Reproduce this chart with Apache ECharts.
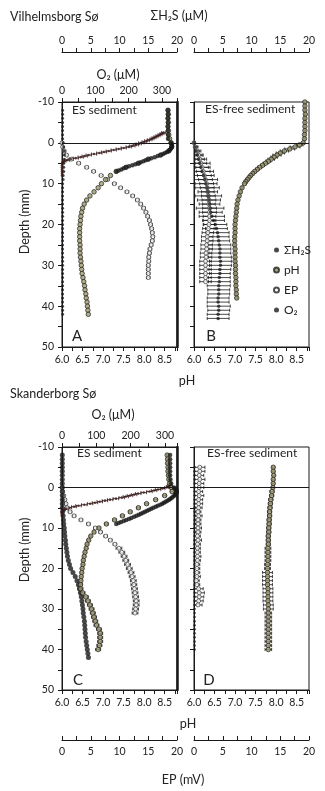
<!DOCTYPE html>
<html><head><meta charset="utf-8">
<script src="https://cdn.jsdelivr.net/npm/echarts@6/dist/echarts.min.js"></script>
<style>html,body{margin:0;padding:0;background:#fff}#c{width:325px;height:791px}</style>
</head><body><div id="c"></div>
<script>
// ---------------- DATA ----------------
// Tick labels / axis ranges
const depthTicks = [-10, 0, 10, 20, 30, 40, 50];
const phTicks = [6.0, 6.5, 7.0, 7.5, 8.0, 8.5];
const concTicks = [0, 5, 10, 15, 20];
const o2Ticks = [0, 100, 200, 300];
const legendNames = ['ΣH₂S', 'pH', 'EP', 'O₂'];

// ---- Panel A: Vilhelmsborg Sø, ES sediment ----
const depthA = [-8,-7,-6,-5,-4,-3,-2,-1,0,1,2,3,4,5,6,7,8,9,10,11,12,13,14,15,16,17,18,19,20,21,22,23,24,25,26,27,28,29,30,31,32,33,34,35,36,37,38,39,40,41,42];
const h2sA = [0.1,0.1,0.1,0.1,0.1,0.1,0.1,0.1,0.2,0.3,0.4,0.4,0.4,0.3,0.3,0.3,0.2,0.2,0.1,0.1,0.1,0.1,0.1,0.1,0.1,0.1,0.1,0.1,0.1,0.1,0.1,0.1,0.1,0.1,0.1,0.1,0.1,0.1,0.1,0.1,0.1,0.1,0.1,0.1,0.1,0.1,0.1,0.1,0.1,0.1,0.1];
const phA = [8.58,8.59,8.58,8.59,8.58,8.59,8.60,8.62,8.66,8.67,8.60,8.40,8.10,7.86,7.56,7.32,7.18,7.06,6.96,6.88,6.78,6.68,6.60,6.54,6.50,6.48,6.46,6.45,6.44,6.43,6.43,6.43,6.43,6.44,6.44,6.44,6.45,6.46,6.47,6.48,6.49,6.51,6.53,6.55,6.56,6.58,6.59,6.61,6.62,6.63,6.64];
const depthA_O2b = [-8,-7,-6,-5,-4,-3,-2,-1,0,0.25,0.5,0.75,1,1.25,1.5,1.75,2,2.25,2.5,2.75,3,3.25,3.5,3.75,4,4.25,4.5,4.75,5,5.25,5.5,5.75,6,6.25,6.5,6.75,7];
const o2bA = [318,318,318,318,318,318,318,318,326,328,330,330,329,328,326,323,320,315,309,303,296,287,278,268,259,251,244,236,229,220,211,201,192,185,178,170,163];
const depthA_O2 = [-2.5,-2.25,-2,-1.75,-1.5,-1.25,-1,-0.75,-0.5,-0.25,0,0.25,0.5,0.75,1,1.25,1.5,1.75,2,2.25,2.5,2.75,3,3.25,3.5,3.75,4,4.25,4.5,4.75,5,5.5,6,6.5,7,7.5,8];
const o2A = [305,300,294,288,282,276,270,263,255,247,238,230,222,211,200,185,170,155,140,126,112,96,80,68,56,41,26,15,6,2,0,0,0,0,0,0,0];
const o2A_err = [6,6,6,6,6,6,6,7,7,7,8,8,8,8,8,8,8,8,8,8,8,8,8,8,8,8,8,7,6,4,3,2,2,2,2,2,2];
const depthA_EP = [0,1,2,3,4,5,6,7,8,9,10,11,12,13,14,15,16,17,18,19,20,21,22,23,24,25,26,27,28,29,30,31,32,33];
const epA = [0,0.1,0.4,0.8,1.6,2.9,4.3,5.5,6.8,7.9,9.1,10.2,11.3,12.3,13.1,13.7,14.2,14.6,14.9,15.2,15.4,15.6,15.7,15.8,15.7,15.5,15.3,15.2,15.1,15.1,15.0,15.0,15.0,15.0];
const epA_err = [0.1,0.1,0.2,0.2,0.3,0.3,0.3,0.3,0.3,0.3,0.3,0.3,0.3,0.3,0.3,0.3,0.3,0.3,0.3,0.3,0.3,0.3,0.3,0.3,0.3,0.3,0.3,0.3,0.3,0.3,0.3,0.3,0.3,0.3];

// ---- Panel B: Vilhelmsborg Sø, ES-free sediment ----
const depthB_pH = [-10,-9,-8,-7,-6,-5,-4,-3,-2,-1,0,0.5,1,1.5,2,2.5,3,3.5,4,4.5,5,5.5,6,6.5,7,7.5,8,8.5,9,9.5,10,11,12,13,14,15,16,17,18,19,20,21,22,23,24,25,26,27,28,29,30,31,32,33,34,35,36,37,38];
const phB = [8.70,8.70,8.70,8.71,8.70,8.70,8.70,8.70,8.69,8.69,8.66,8.57,8.46,8.33,8.20,8.10,8.02,7.95,7.88,7.81,7.74,7.67,7.60,7.54,7.48,7.43,7.38,7.34,7.30,7.26,7.23,7.17,7.13,7.10,7.07,7.05,7.04,7.03,7.02,7.01,7.00,7.00,7.00,6.99,6.99,6.99,7.00,7.00,7.00,7.00,7.01,7.01,7.01,7.02,7.02,7.02,7.03,7.03,7.04];
const phB_err = [0.02,0.02,0.02,0.02,0.02,0.02,0.02,0.02,0.02,0.02,0.03,0.08,0.12,0.12,0.10,0.10,0.10,0.08,0.08,0.06,0.06,0.05,0.05,0.04,0.04,0.03,0.03,0.03,0.03,0.03,0.03,0.02,0.02,0.02,0.02,0.02,0.02,0.02,0.02,0.02,0.02,0.02,0.02,0.02,0.02,0.02,0.02,0.02,0.02,0.02,0.02,0.02,0.02,0.02,0.02,0.02,0.02,0.02,0.02];
const depthB_H2S = [0,1,2,3,4,5,6,7,8,9,10,11,12,13,14,15,16,17,18,19,20,21,22,23,24,25,26,27,28,29,30,31,32,33,34,35,36,37,38,39,40,41,42,43];
const h2sB = [0,0.2,0.4,0.6,0.8,1.0,1.2,1.4,1.7,1.9,2.1,2.3,2.4,2.5,2.6,2.7,2.8,2.9,3.1,3.4,3.7,3.9,4.1,4.2,4.3,4.4,4.5,4.5,4.5,4.6,4.6,4.5,4.5,4.4,4.4,4.3,4.3,4.3,4.2,4.2,4.3,4.3,4.2,4.2];
const h2sB_err = [0.2,0.5,0.8,1.0,1.4,1.8,1.6,2.0,1.8,2.2,1.9,2.1,1.7,2.3,2.0,1.8,2.4,2.0,2.2,1.9,2.0,1.9,2.0,1.9,1.9,2.0,1.9,1.9,2.0,1.9,1.9,1.9,1.8,1.9,1.9,2.0,1.9,1.9,1.9,1.9,2.0,1.9,1.9,1.9];
const depthB_EP = [0,1,2,3,4,5,6,7,8,9,10,11,12,13,14,15,16,17,18,19,20,21,22,23,24,25,26,27,28,29,30,31,32,33,34];
const epB = [0,0.2,0.5,0.8,1.0,1.2,1.4,1.6,1.8,2.0,2.2,2.3,2.4,2.5,2.6,2.6,2.7,2.7,2.7,2.7,2.6,2.5,2.4,2.3,2.3,2.2,2.2,2.1,2.1,2.0,2.0,2.0,2.0,2.0,2.0];
const epB_err = [0.2,0.3,0.4,0.6,0.8,1.0,1.1,1.2,1.2,1.2,1.2,1.2,1.1,1.2,1.2,1.1,1.2,1.2,1.1,1.1,1.0,1.0,1.0,1.0,1.0,1.0,1.0,1.0,1.0,1.0,1.0,1.0,1.0,1.0,1.0];

// ---- Panel C: Skanderborg Sø, ES sediment ----
const depthC = [-8,-7,-6,-5,-4,-3,-2,-1,0,1,2,3,4,5,6,7,8,9,10,11,12,13,14,15,16,17,18,19,20,21,22,23,24,25,26,27,28,29,30,31,32,33,34,35,36,37,38,39,40,41,42];
const h2sC = [0.05,0.05,0.05,0.05,0.05,0.05,0.05,0.05,0.05,0.05,0.05,0.05,0.05,0.05,0.1,0.2,0.25,0.3,0.4,0.45,0.5,0.6,0.65,0.75,0.85,0.95,1.1,1.3,1.5,1.9,2.3,2.6,2.85,3.05,3.2,3.35,3.45,3.55,3.65,3.7,3.8,3.9,3.95,4.0,4.05,4.1,4.2,4.3,4.4,4.5,4.6];
const depthC_pH = [-8,-7,-6,-5,-4,-3,-2,-1,0,1,2,3,4,5,6,7,8,9,10,11,12,13,14,15,16,17,18,19,20,21,22,23,24,25,26,27,28,29,30,31,32,33,34,35,36,37,38,39,40];
const phC = [8.56,8.57,8.57,8.58,8.58,8.59,8.60,8.62,8.66,8.68,8.50,8.28,8.06,7.86,7.66,7.47,7.28,7.08,6.90,6.78,6.70,6.65,6.61,6.59,6.56,6.54,6.52,6.51,6.49,6.48,6.47,6.46,6.45,6.45,6.50,6.58,6.63,6.68,6.72,6.75,6.78,6.81,6.84,6.90,6.93,6.93,6.93,6.91,6.88];
const phC_err = [0.02,0.02,0.02,0.02,0.02,0.02,0.02,0.02,0.03,0.04,0.04,0.04,0.04,0.04,0.04,0.04,0.04,0.04,0.03,0.03,0.03,0.03,0.03,0.03,0.03,0.03,0.03,0.03,0.03,0.03,0.03,0.03,0.05,0.06,0.06,0.06,0.06,0.06,0.06,0.06,0.06,0.06,0.06,0.06,0.06,0.06,0.06,0.06,0.06];
const depthC_O2b = [-8,-7,-6,-5,-4,-3,-2,-1,0,0.25,0.5,0.75,1,1.25,1.5,1.75,2,2.25,2.5,2.75,3,3.25,3.5,3.75,4,4.25,4.5,4.75,5,5.25,5.5,5.75,6,6.25,6.5,6.75,7,7.25,7.5,7.75,8,8.25,8.5,8.75,9];
const o2bC = [315,315,315,315,315,315,316,318,326,329,332,334,334,334,332,330,328,324,320,316,312,307,302,297,292,286,279,273,266,260,254,248,242,236,230,224,217,210,202,195,187,180,172,165,158];
const depthC_O2 = [-0.5,-0.25,0,0.25,0.5,0.75,1,1.25,1.5,1.75,2,2.25,2.5,2.75,3,3.25,3.5,3.75,4,4.25,4.5,4.75,5,5.25,5.5,5.75,6,6.25,6.5,6.75,7];
const o2C = [314,310,305,293,280,268,255,238,222,210,198,186,174,157,140,125,110,96,82,65,48,35,22,13,6,2,0,0,0,0,0];
const o2C_err = [6,6,6,7,8,8,8,8,8,8,8,8,8,8,8,8,8,8,8,8,8,7,6,5,4,3,2,2,2,2,2];
const depthC_EP = [0,1,2,3,4,5,6,7,8,9,10,11,12,13,14,15,16,17,18,19,20,21,22,23,24,25,26,27,28,29,30,31];
const epC = [0,0.1,0.3,0.5,0.7,0.9,1.4,2.1,3.3,4.6,5.8,6.7,7.6,8.4,9.2,9.9,10.4,10.8,11.1,11.4,11.7,12.0,12.2,12.4,12.5,12.6,12.7,12.8,12.9,12.9,12.8,12.7];
const epC_err = [0.2,0.2,0.2,0.2,0.2,0.2,0.3,0.3,0.3,0.3,0.3,0.3,0.3,0.3,0.3,0.5,0.5,0.5,0.5,0.5,0.5,0.5,0.5,0.5,0.5,0.5,0.5,0.5,0.5,0.5,0.5,0.5];

// ---- Panel D: Skanderborg Sø, ES-free sediment ----
const depthD = [-5,-4,-3,-2,-1,0,1,2,3,4,5,6,7,8,9,10,11,12,13,14,15,16,17,18,19,20,21,22,23,24,25,26,27,28,29,30,31,32,33,34,35,36,37,38,39,40];
const h2sD = [0.1,0.1,0.1,0.1,0.1,0.1,0.1,0.1,0.1,0.1,0.1,0.1,0.1,0.1,0.1,0.1,0.1,0.1,0.1,0.1,0.1,0.1,0.1,0.1,0.1,0.1,0.1,0.1,0.1,0.1,0.1,0.1,0.1,0.1,0.1,0.1,0.1,0.1,0.1,0.1,0.1,0.1,0.1,0.1,0.1,0.1];
const phD = [7.93,7.93,7.94,7.93,7.93,7.92,7.90,7.89,7.87,7.86,7.85,7.84,7.84,7.83,7.83,7.82,7.82,7.81,7.81,7.81,7.80,7.80,7.80,7.80,7.79,7.79,7.79,7.79,7.79,7.79,7.80,7.80,7.80,7.80,7.81,7.81,7.81,7.81,7.81,7.81,7.81,7.81,7.81,7.81,7.81,7.81];
const phD_err = [0.03,0.03,0.03,0.03,0.03,0.03,0.05,0.05,0.05,0.05,0.05,0.05,0.05,0.05,0.05,0.05,0.05,0.05,0.05,0.05,0.07,0.07,0.07,0.07,0.07,0.07,0.12,0.12,0.12,0.12,0.12,0.12,0.12,0.12,0.12,0.12,0.08,0.08,0.08,0.08,0.08,0.08,0.08,0.08,0.08,0.08];
const depthD_EP = [-5,-4,-3,-2,-1,0,1,2,3,4,5,6,7,8,9,10,11,12,13,14,15,16,17,18,19,20,21,22,23,24,25,26,27,28,29];
const epD = [1.0,1.0,0.9,1.0,0.9,0.9,0.8,0.9,0.8,0.8,0.8,0.7,0.8,0.7,0.7,0.7,0.7,0.6,0.7,0.6,0.6,0.6,0.6,0.6,0.5,0.5,0.5,0.5,0.4,0.5,0.8,0.9,0.9,0.8,0.7];
const epD_err = [0.9,0.9,0.8,0.9,0.8,0.8,0.7,0.8,0.7,0.7,0.6,0.5,0.6,0.5,0.5,0.6,0.5,0.5,0.6,0.5,0.5,0.5,0.6,0.5,0.5,0.5,0.5,0.6,0.5,0.5,0.8,0.9,0.8,0.8,0.7];

// ---------------- CHART ----------------
const F = 'Lato, "Open Sans", sans-serif';
const INK = '#1a1a1a';
const PH_FILL = '#9e9a6c';
const O2_INK = '#3a1d1d';

function pts(vals, depths) { return vals.map((v, i) => [v, depths[i]]); }

function xAx(gi, pos, min, max, interval, extra) {
  return Object.assign({
    type: 'value', gridIndex: gi, position: pos, min: min, max: max, interval: interval, offset: 0,
    splitLine: { show: false },
    axisLine: { show: true, onZero: false, lineStyle: { color: INK, width: 1 } },
    axisTick: { show: true, inside: false, length: 4, lineStyle: { color: INK, width: 1 } },
    minorTick: { show: true, splitNumber: 2, length: 4, lineStyle: { color: INK, width: 1 } },
    axisLabel: { show: true, margin: 6, fontSize: 10.5, fontFamily: F, color: '#222' }
  }, extra || {});
}
const phFmt = v => phTicks.some(t => Math.abs(t - v) < 1e-6) ? v.toFixed(1) : '';
const o2Fmt = v => o2Ticks.indexOf(v) >= 0 ? String(v) : '';
const concFmt = v => concTicks.indexOf(v) >= 0 ? String(v) : '';

function phAxis(gi) { return xAx(gi, 'bottom', 6, 8.8, 0.5, { axisLabel: { margin: 7, fontSize: 10.5, fontFamily: F, color: '#222', formatter: phFmt } }); }
function o2Axis(gi, max) { return xAx(gi, 'top', 0, max, 100, { axisLabel: { margin: 6, fontSize: 10.5, fontFamily: F, color: '#222', formatter: o2Fmt } }); }
function h2sAxis(gi, show) { return xAx(gi, 'top', 0, 20, 5, { offset: 50, show: show, axisLabel: { margin: 6, fontSize: 10.5, fontFamily: F, color: '#222', formatter: concFmt } }); }
function epAxis(gi, show) { return xAx(gi, 'bottom', 0, 20, 5, { offset: 50, show: show, axisTick: { show: true, inside: true, length: 4, lineStyle: { color: INK } }, minorTick: { show: true, splitNumber: 2, length: 4, lineStyle: { color: INK } }, axisLabel: { margin: 6, fontSize: 10.5, fontFamily: F, color: '#222', formatter: concFmt } }); }

const xAxis = [
  phAxis(0), o2Axis(0, 345), h2sAxis(0, true), epAxis(0, false),        // 0-3  A
  phAxis(1), h2sAxis(1, true), epAxis(1, false),                        // 4-6  B
  phAxis(2), o2Axis(2, 335), h2sAxis(2, false), epAxis(2, true),        // 7-10 C
  phAxis(3), h2sAxis(3, false), epAxis(3, true)                         // 11-13 D
];

function yAx(gi, labels) {
  return {
    type: 'value', gridIndex: gi, position: 'left', inverse: true, min: depthTicks[0], max: depthTicks[depthTicks.length - 1], interval: 10,
    splitLine: { show: false },
    axisLine: { show: true, onZero: false, lineStyle: { color: INK, width: 1 } },
    axisTick: { show: true, length: 4, lineStyle: { color: INK } },
    minorTick: { show: true, splitNumber: 2, length: 4, lineStyle: { color: INK } },
    axisLabel: { show: labels, margin: 8, fontSize: 10.5, fontFamily: F, color: '#222' }
  };
}
function yRight(gi) {
  return { type: 'value', gridIndex: gi, position: 'right', inverse: true, min: -10, max: 50,
    splitLine: { show: false }, axisTick: { show: false }, axisLabel: { show: false },
    axisLine: { show: true, onZero: false, lineStyle: { color: INK, width: 2.5 } } };
}
const yAxis = [yAx(0, true), yAx(1, false), yAx(2, true), yAx(3, false), yRight(0), yRight(2)];

const gridBase = { show: true, borderColor: INK, borderWidth: 1, backgroundColor: 'transparent' };
const grid = [
  Object.assign({ left: 62, top: 102, width: 115, height: 245 }, gridBase),
  Object.assign({ left: 194, top: 102, width: 115, height: 245 }, gridBase),
  Object.assign({ left: 62, top: 447, width: 115, height: 243 }, gridBase),
  Object.assign({ left: 194, top: 447, width: 115, height: 243 }, gridBase)
];

function errS(xi, yi, vals, depths, errs, color) {
  return {
    type: 'custom', xAxisIndex: xi, yAxisIndex: yi, silent: true, z: 1, clip: true,
    encode: { x: 0, y: 1 },
    data: vals.map((v, i) => [v, depths[i], errs[i]]),
    renderItem: function (params, api) {
      const x = api.value(0), y = api.value(1), e = api.value(2);
      const a = api.coord([x - e, y]), b = api.coord([x + e, y]);
      const st = { stroke: color || INK, lineWidth: 0.8 };
      const h = 1.6;
      return { type: 'group', children: [
        { type: 'line', shape: { x1: a[0], y1: a[1], x2: b[0], y2: b[1] }, style: st },
        { type: 'line', shape: { x1: a[0], y1: a[1] - h, x2: a[0], y2: a[1] + h }, style: st },
        { type: 'line', shape: { x1: b[0], y1: b[1] - h, x2: b[0], y2: b[1] + h }, style: st }
      ] };
    }
  };
}
const zeroLine = { silent: true, symbol: 'none', label: { show: false }, animation: false,
  lineStyle: { color: INK, width: 1, type: 'solid' }, data: [{ yAxis: 0 }] };

function sc(name, xi, yi, data, kind, size, extra) {
  const styles = {
    h2s: { color: INK },
    ph: { color: PH_FILL, borderColor: '#1e1e1e', borderWidth: 0.9 },
    ep: { color: '#ffffff', borderColor: '#222', borderWidth: 0.8 },
    o2: { color: INK },
    o2x: { color: O2_INK }
  };
  return Object.assign({ type: 'scatter', name: name, xAxisIndex: xi, yAxisIndex: yi, data: data,
    symbol: 'circle', symbolSize: size, itemStyle: styles[kind], z: 2, animation: false }, extra || {});
}

const series = [
  // ----- A -----
  errS(3, 0, epA, depthA_EP, epA_err),
  errS(1, 0, o2A, depthA_O2, o2A_err, O2_INK),
  sc('EP', 3, 0, pts(epA, depthA_EP), 'ep', 4),
  sc('ΣH₂S', 2, 0, pts(h2sA, depthA), 'h2s', 3),
  sc('pH', 0, 0, pts(phA, depthA), 'ph', 4.5, { markLine: zeroLine }),
  sc('O₂', 1, 0, pts(o2bA, depthA_O2b), 'o2', 4.5),
  sc('O₂', 1, 0, pts(o2A, depthA_O2), 'o2x', 2.6),
  // ----- B -----
  errS(5, 1, h2sB, depthB_H2S, h2sB_err),
  errS(6, 1, epB, depthB_EP, epB_err),
  errS(4, 1, phB, depthB_pH, phB_err),
  sc('EP', 6, 1, pts(epB, depthB_EP), 'ep', 4),
  sc('ΣH₂S', 5, 1, pts(h2sB, depthB_H2S), 'h2s', 3.5),
  sc('pH', 4, 1, pts(phB, depthB_pH), 'ph', 4.5, { markLine: zeroLine }),
  // ----- C -----
  errS(10, 2, epC, depthC_EP, epC_err),
  errS(8, 2, o2C, depthC_O2, o2C_err, O2_INK),
  errS(7, 2, phC, depthC_pH, phC_err),
  sc('EP', 10, 2, pts(epC, depthC_EP), 'ep', 4),
  sc('ΣH₂S', 9, 2, pts(h2sC, depthC), 'h2s', 5),
  sc('pH', 7, 2, pts(phC, depthC_pH), 'ph', 4.5, { markLine: zeroLine }),
  sc('O₂', 8, 2, pts(o2bC, depthC_O2b), 'o2', 4.5),
  sc('O₂', 8, 2, pts(o2C, depthC_O2), 'o2x', 2.6),
  // ----- D -----
  errS(13, 3, epD, depthD_EP, epD_err),
  errS(11, 3, phD, depthD, phD_err),
  sc('ΣH₂S', 12, 3, pts(h2sD, depthD), 'h2s', 2.5),
  sc('EP', 13, 3, pts(epD, depthD_EP), 'ep', 4),
  sc('pH', 11, 3, pts(phD, depthD), 'ph', 4.5, { markLine: zeroLine })
];

function txt(x, y, s, size, align, extra) {
  return Object.assign({ type: 'text', x: x, y: y, silent: true, z: 10,
    style: { text: s, font: size + 'px ' + F, fill: '#222', textAlign: align || 'center', textVerticalAlign: 'middle' } }, extra || {});
}
const graphic = [
  txt(10, 17, 'Vilhelmsborg Sø', 12.5, 'left'),
  txt(179, 16, 'ΣH₂S (μM)', 12.5),
  txt(118, 75, 'O₂ (μM)', 12.5),
  txt(72, 110, 'ES sediment', 12, 'left'),
  txt(205, 109, 'ES-free sediment', 12, 'left'),
  txt(25, 222, 'Depth (mm)', 12.5, 'center', { rotation: Math.PI / 2 }),
  txt(77, 336, 'A', 15),
  txt(211, 336, 'B', 15),
  txt(187, 381, 'pH', 12.5),
  txt(10, 394, 'Skanderborg Sø', 12.5, 'left'),
  txt(113, 415, 'O₂ (μM)', 12.5),
  txt(77, 453, 'ES sediment', 12, 'left'),
  txt(207, 453, 'ES-free sediment', 12, 'left'),
  txt(25, 550, 'Depth (mm)', 12.5, 'center', { rotation: Math.PI / 2 }),
  txt(78, 680, 'C', 15),
  txt(209, 680, 'D', 15),
  txt(188, 724, 'pH', 12.5),
  txt(183, 780, 'EP (mV)', 12.5)
];

const chart = echarts.init(document.getElementById('c'), null, { renderer: 'canvas' });
chart.setOption({
  animation: false,
  backgroundColor: '#ffffff',
  grid: grid,
  xAxis: xAxis,
  yAxis: yAxis,
  legend: {
    data: legendNames, orient: 'vertical', left: 268, top: 238,
    itemWidth: 5, itemHeight: 5, itemGap: 6, icon: 'circle',
    textStyle: { fontSize: 12, fontFamily: F, color: '#222', lineHeight: 14 }
  },
  graphic: graphic,
  series: series
});
</script></body></html>
